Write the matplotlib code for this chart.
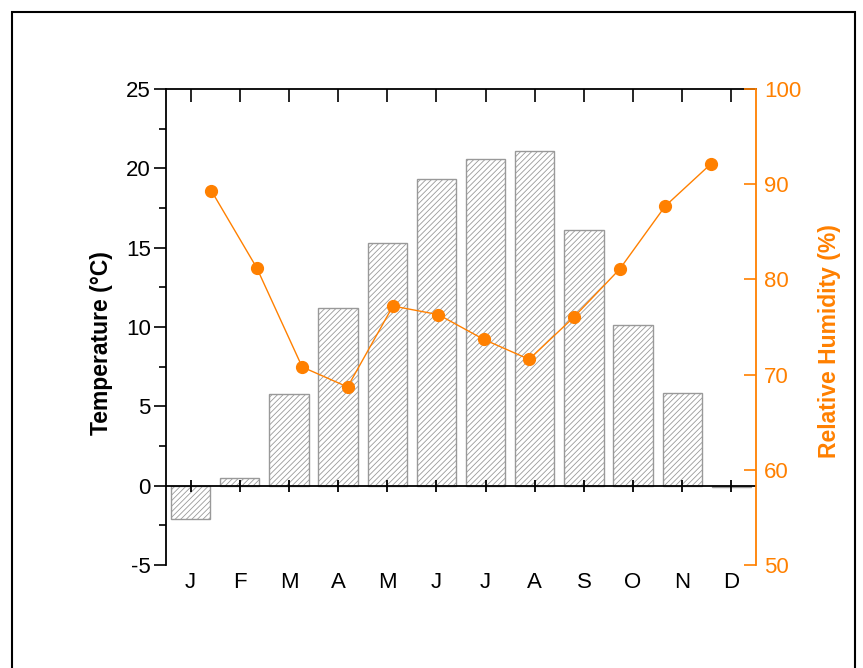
import matplotlib.pyplot as plt
import numpy as np
from matplotlib.patches import Rectangle

plt.rcParams['font.family'] = ['Liberation Sans', 'DejaVu Sans']
plt.rcParams['hatch.linewidth'] = 0.6
plt.rcParams['axes.unicode_minus'] = False

months = ['J', 'F', 'M', 'A', 'M', 'J', 'J', 'A', 'S', 'O', 'N', 'D']
temperature = [-2.1, 0.5, 5.8, 11.2, 15.3, 19.3, 20.6, 21.1, 16.1, 10.1, 5.85, -0.1]
humidity = [89.3, 81.2, 70.8, 68.7, 77.2, 76.3, 73.7, 71.6, 76.1, 81.1, 87.7, 92.1]

orange = '#FF8000'

fig = plt.figure(figsize=(8.63, 6.68), dpi=100)
# outer frame
fig.add_artist(Rectangle((12 / 863, -0.02), 843 / 863, 1 - 12 / 668 + 0.02,
                         transform=fig.transFigure, fill=False,
                         edgecolor='black', linewidth=1.5))

rect = [0.1924, 0.1542, 0.6836, 0.7126]
ax = fig.add_axes(rect)
x = np.arange(1, 13)
ax.bar(x, temperature, width=0.8, color='white', edgecolor='#999999',
       hatch='//////', linewidth=1.0, zorder=2)
ax.axhline(0, color='black', linewidth=1.3, zorder=3)
ax.plot(x, np.zeros(12), linestyle='none', marker='|', markersize=8,
        markeredgewidth=1.3, color='black', zorder=3)

ax.set_xlim(0.5, 12.5)
ax.set_ylim(-5, 25)
ax.set_yticks([-5, 0, 5, 10, 15, 20, 25])
ax.set_yticks(np.arange(-2.5, 25, 5), minor=True)
ax.set_xticks(x)
ax.set_xticklabels(months)
ax.tick_params(axis='x', bottom=False, top=False, length=0, labelsize=16, pad=5)
ax.tick_params(axis='y', which='major', direction='out', length=9, width=1.2,
               labelsize=16, pad=2)
ax.tick_params(axis='y', which='minor', direction='out', length=5, width=1.2)
ax.spines['bottom'].set_visible(False)
ax.spines['right'].set_visible(False)
ax.spines['left'].set_linewidth(1.3)
ax.spines['top'].set_linewidth(1.3)
ax.set_ylabel('Temperature (\u00b0C)', fontsize=16.5, fontweight='bold')
ax.yaxis.set_label_coords(-0.09, 0.466)

top = ax.secondary_xaxis('top')
top.set_xticks(x)
top.set_xticklabels([])
top.tick_params(direction='in', length=9, width=1.2)
top.spines['top'].set_visible(False)

# humidity on its own axes
ax2 = fig.add_axes(rect)
ax2.patch.set_visible(False)
ax2.plot(np.arange(1, 13), humidity, color=orange, marker='o', markersize=8.5,
         linewidth=1.0, zorder=4)
ax2.set_xlim(0, 13)
ax2.set_ylim(50, 100)
ax2.set_xticks([])
ax2.yaxis.set_label_position('right')
ax2.yaxis.tick_right()
ax2.set_yticks([50, 60, 70, 80, 90, 100])
ax2.tick_params(axis='y', direction='in', length=9, width=1.2, colors=orange,
                labelsize=16, pad=6)
for s in ['left', 'top', 'bottom']:
    ax2.spines[s].set_visible(False)
ax2.spines['right'].set_color(orange)
ax2.spines['right'].set_linewidth(1.3)
ax2.set_ylabel('Relative Humidity (%)', fontsize=16.5, fontweight='bold',
               color=orange, rotation=90)
ax2.yaxis.set_label_coords(1.105, 0.47)

fig.savefig('out.png', dpi=100)
